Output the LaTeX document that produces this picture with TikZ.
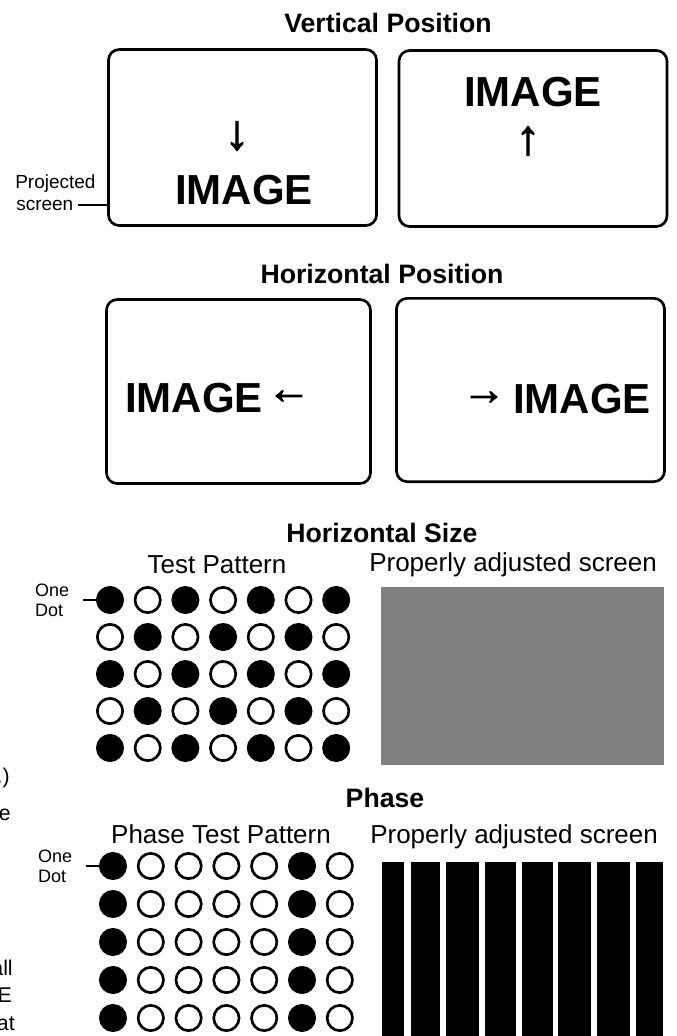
\documentclass[tikz,border=0pt]{standalone}
\usepackage{fontspec}
\setmainfont{Liberation Sans}
\newfontfamily\arrowfont[FakeBold=2]{Liberation Sans}
\usetikzlibrary{positioning}

\begin{document}
\begin{tikzpicture}[
  x=0.75pt, y=-0.75pt,
  screen/.style={draw, line width=2pt, rounded corners=8pt, minimum width=201pt,
                 minimum height=132pt, inner sep=0pt},
  ttl/.style={font=\bfseries\fontsize{20}{22}\selectfont, inner sep=0pt, anchor=base},
  sub/.style={font=\fontsize{19.5}{22}\selectfont, inner sep=0pt},
  big/.style={font=\bfseries\fontsize{31.5}{34}\selectfont, inner sep=0pt},
  varr/.style={font=\arrowfont\fontsize{37}{38}\selectfont, inner sep=0pt},
  harr/.style={font=\arrowfont\fontsize{33}{34}\selectfont, inner sep=0pt},
  lbl/.style={font=\fontsize{14.25}{16}\selectfont, inner sep=0pt, anchor=base west},
  dotlbl/.style={font=\fontsize{13.5}{15}\selectfont, align=left, inner xsep=10pt, inner ysep=0pt},
  dot/.style={circle, draw, line width=2pt, minimum size=19pt, inner sep=0pt},
  frag/.style={font=\fontsize{16}{18}\selectfont, inner sep=0pt, anchor=base east},
  pointer/.style={line width=1.2pt},
]
  \useasboundingbox (0,0) rectangle (676,1036);
  \clip (0,0) rectangle (676,1036);

  % vertical position
  \node[ttl] (vt) at (388,32) {Vertical Position};
  \node[screen] (vtl) at (242.5,137.5) {};
  \node[screen] (vtr) at (533,138.5) {};
  \node[varr] (dn) at (237,136) {↓};
  \node[big, anchor=base] (img1) at (244,204) {IMAGE};
  \node[big, anchor=base] (img2) at (533,106) {IMAGE};
  \node[varr] (up) at (528,141) {↑};
  \node[lbl] (proj) at (15,188) {Projected};
  \node[lbl, inner xsep=3pt] (scr) at (12,210) {screen};
  \draw[pointer] (scr.east) -- (scr.east -| vtl.west);

  % horizontal position
  \node[ttl] (ht) at (382,283) {Horizontal Position};
  \node[screen, minimum width=198pt, minimum height=138pt] (htl) at (238.5,391.5) {};
  \node[screen, minimum height=137.5pt] (htr) at (530.5,390) {};
  \node[big, anchor=base west] (img3) at (125,412) {IMAGE};
  \node[harr] (lf) at (289,397) {←};
  \node[harr] (rt) at (484,398) {→};
  \node[big, anchor=base east] (img4) at (651,413) {IMAGE};

  % horizontal size
  \node[ttl] (hs) at (382,542) {Horizontal Size};
  \node[sub, anchor=base] (hstp) at (217,573) {Test Pattern};
  \node[sub, anchor=base west] (hsok) at (369,571) {Properly adjusted screen};
  \foreach \r in {1,...,5}
    \foreach \c in {1,...,7} {
      \pgfmathtruncatemacro{\s}{\r+\c}
      \ifodd\s \def\dotfill{white}\else \def\dotfill{black}\fi
      \node[dot, fill=\dotfill] (hs-\r-\c) at ({110+37.7*(\c-1)},{600+37*(\r-1)}) {};
    }
  \node[dotlbl, left=10pt of hs-1-1] (hsone) {One\\Dot};
  \draw[pointer] (hsone.east) -- (hs-1-1.west);
  \fill[black!50] (381,587) rectangle (664,765);

  % phase
  \node[ttl] (ph) at (385,807) {Phase};
  \node[sub, anchor=base] (phtp) at (221,843) {Phase Test Pattern};
  \node[sub, anchor=base west] (phok) at (370,843) {Properly adjusted screen};
  \foreach \r in {1,...,5}
    \foreach \c in {1,...,7} {
      \ifnum\c=1 \def\dotfill{black}\else\ifnum\c=6 \def\dotfill{black}\else \def\dotfill{white}\fi\fi
      \node[dot, fill=\dotfill] (ph-\r-\c) at ({113+37.8*(\c-1)},{866+38*(\r-1)}) {};
    }
  \node[dotlbl, left=10pt of ph-1-1] (phone) {One\\Dot};
  \draw[pointer] (phone.east) -- (ph-1-1.west);
  \foreach \a/\b in {382/404, 411/440, 446/479, 485/516, 522/553, 558/591, 597/630, 636/663}
    \fill (\a,862) rectangle (\b,1036);

  % text cut at the left edge
  \node[frag] (fa) at (10,783) {.)};
  \node[frag] (fb) at (11,820) {e};
  \node[frag] (fc) at (13,975) {all};
  \node[frag] (fd) at (12,1002) {E};
  \node[frag] (fe) at (15,1030) {at};
\end{tikzpicture}
\end{document}
